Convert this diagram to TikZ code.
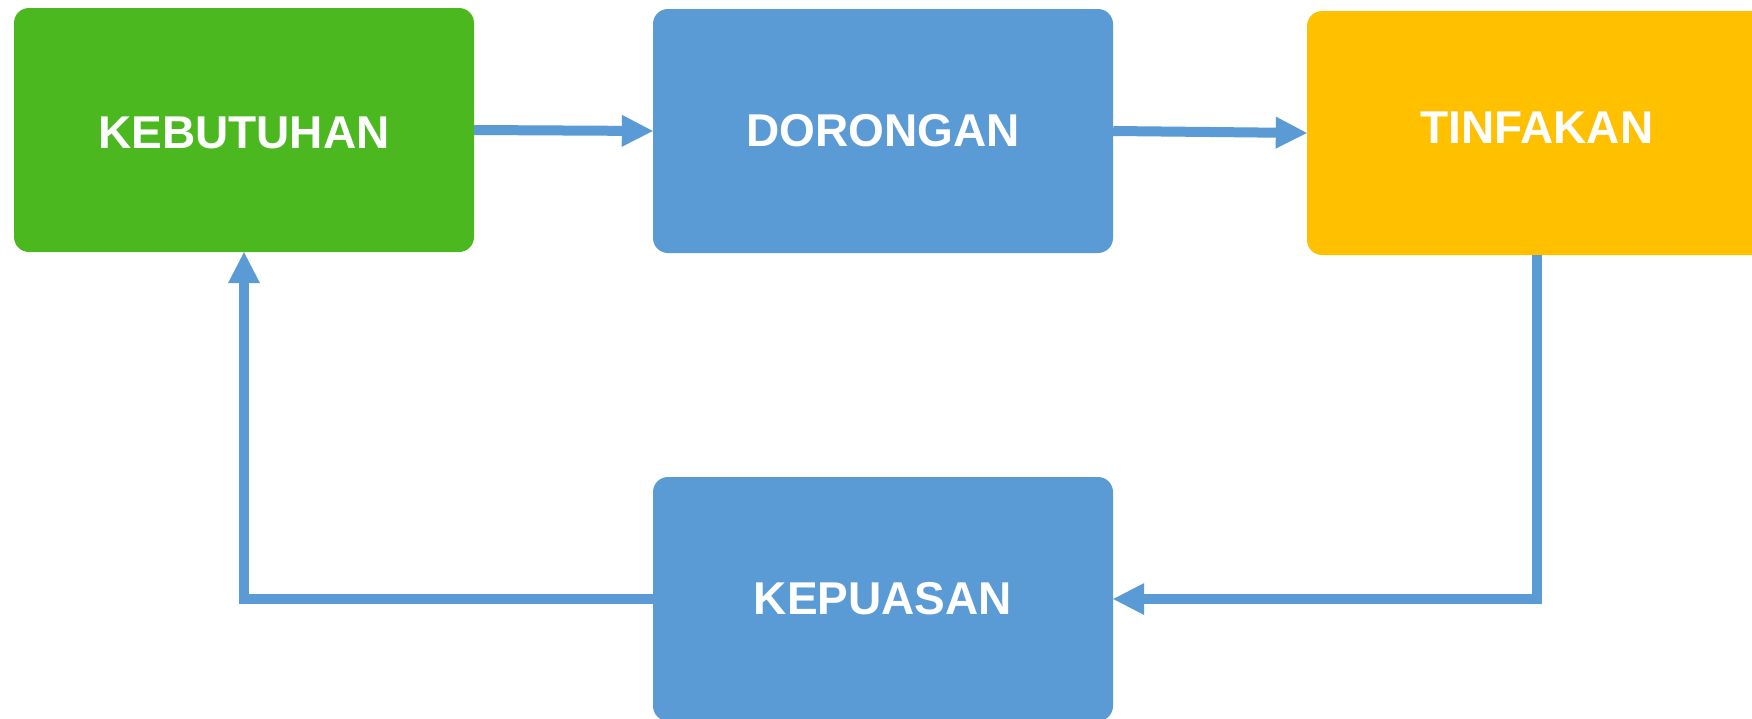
\documentclass[tikz,border=0pt]{standalone}
\usepackage{fontspec}
\setmainfont{Liberation Sans}
\usetikzlibrary{arrows.meta}
\definecolor{cgreen}{HTML}{4CB820}
\definecolor{cblue}{HTML}{5B9BD5}
\definecolor{cyellow}{HTML}{FFC000}
\tikzset{
  box/.style={rectangle, rounded corners=15pt, minimum width=460pt, minimum height=244pt,
    inner sep=0pt, text=white, font=\fontsize{46}{55}\selectfont\bfseries},
  conn/.style={draw=cblue, line width=10pt, -{Triangle[length=31pt,width=32pt,line width=0pt]}}
}
\begin{document}
\begin{tikzpicture}[x=1pt,y=-1pt]
\useasboundingbox (0,0) rectangle (1752,718);
\clip (0,0) rectangle (1752,718);
\fill[white] (0,0) rectangle (1752,718);
\node[box, fill=cgreen, text height=37pt] (k) at (244,130) {KEBUTUHAN};
\node[box, fill=cblue] (d) at (883,131) {DORONGAN};
\node[box, fill=cyellow, text depth=10pt] (t) at (1537,133) {TINFAKAN};
\node[box, fill=cblue] (p) at (883,599) {KEPUASAN};
\draw[conn] (k.east) -- (d.west);
\draw[conn] (d.east) -- (t.west);
\draw[conn] (t.south) |- (p.east);
\draw[conn] (p.west) -| (k.south);
\end{tikzpicture}
\end{document}
